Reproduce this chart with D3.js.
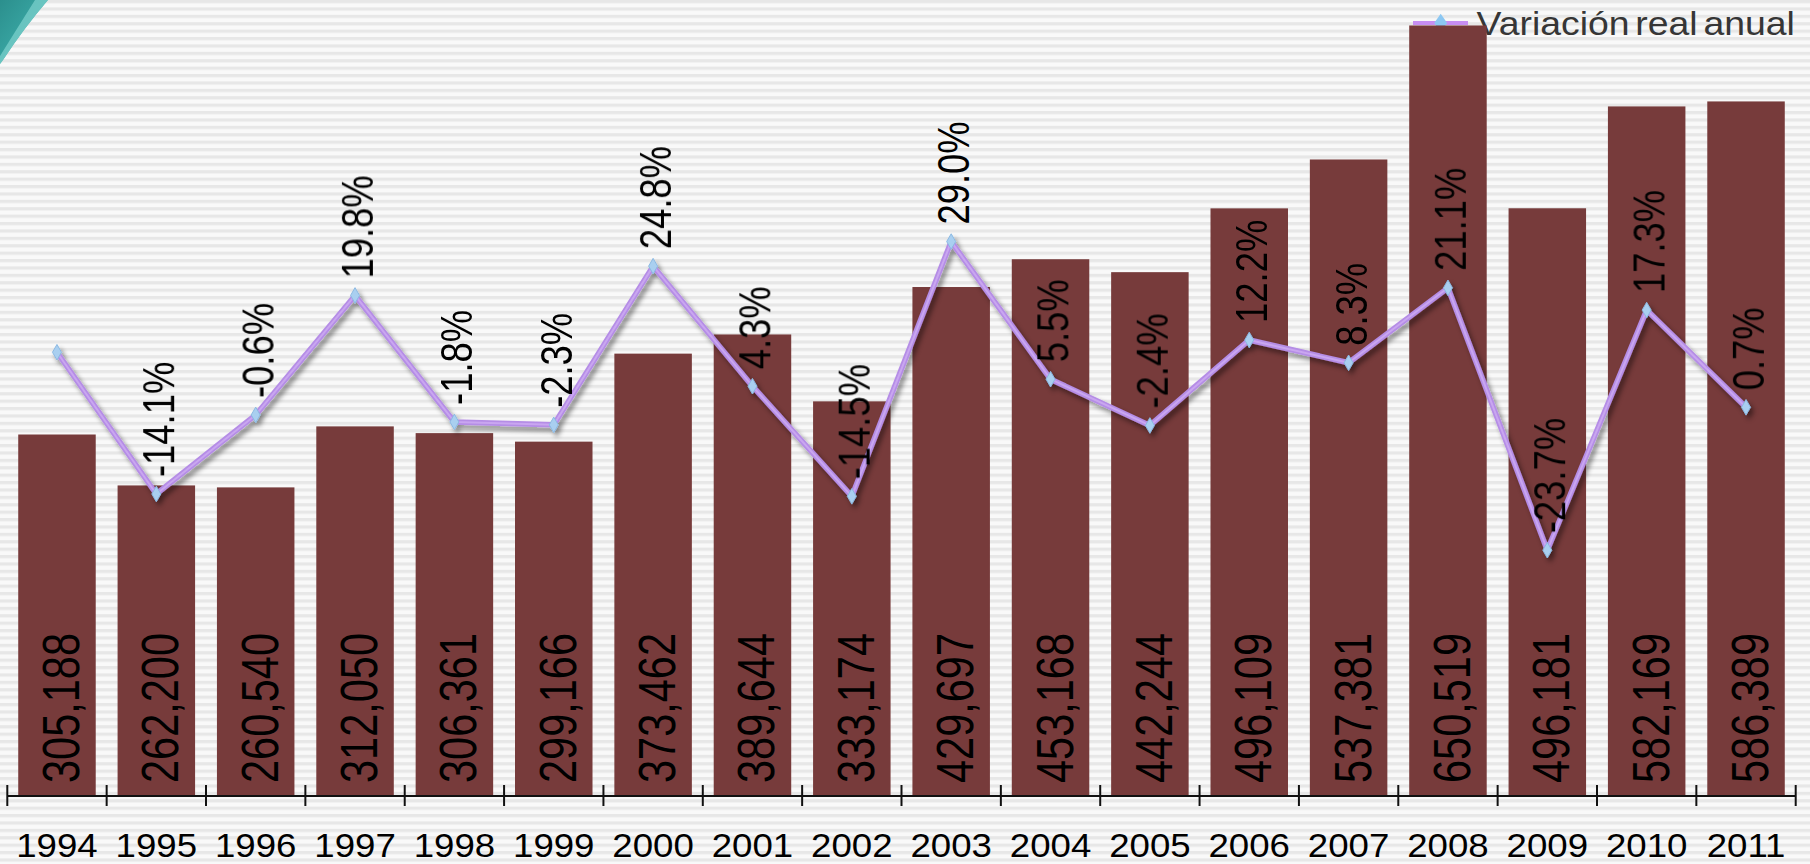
<!DOCTYPE html>
<html>
<head>
<meta charset="utf-8">
<script src="https://cdn.jsdelivr.net/npm/d3@7"></script>
<style>
  html, body { margin: 0; padding: 0; background: #f4f4f4; overflow: hidden; }
  svg { display: block; }
  text { font-family: "Liberation Sans", Arial, sans-serif; }
</style>
</head>
<body>
<svg id="chart" width="1810" height="864"></svg>
<script>
// ---- Data ----
const years = ["1994","1995","1996","1997","1998","1999","2000","2001","2002","2003","2004","2005","2006","2007","2008","2009","2010","2011"];
const amounts = [305188, 262200, 260540, 312050, 306361, 299166, 373462, 389644, 333174, 429697, 453168, 442244, 496109, 537381, 650519, 496181, 582169, 586389];
const variation = [10.1, -14.1, -0.6, 19.8, -1.8, -2.3, 24.8, 4.3, -14.5, 29.0, 5.5, -2.4, 12.2, 8.3, 21.1, -23.7, 17.3, 0.7];
const variationLabels = [null, "-14.1%", "-0.6%", "19.8%", "-1.8%", "-2.3%", "24.8%", "4.3%", "-14.5%", "29.0%", "5.5%", "-2.4%", "12.2%", "8.3%", "21.1%", "-23.7%", "17.3%", "0.7%"];
const legendLabel = "Variación real anual";

// ---- Layout ----
const W = 1810, H = 864;
const axisLeft = 7.3, axisRight = 1795.7, baseY = 796;
const svg = d3.select("#chart");
const defs = svg.append("defs");

// striped background
const pat = defs.append("pattern").attr("id", "stripes")
  .attr("patternUnits", "userSpaceOnUse").attr("width", 8).attr("height", 7.4);
pat.append("rect").attr("width", 8).attr("height", 7.4).attr("fill", "#f9f9f9");
pat.append("rect").attr("y", 0).attr("width", 8).attr("height", 3.2).attr("fill", "#e7e7e7");
svg.append("rect").attr("width", W).attr("height", H).attr("fill", "url(#stripes)");

// teal corner decoration
const tg = defs.append("linearGradient").attr("id", "teal")
  .attr("x1", "0").attr("y1", "0").attr("x2", "1").attr("y2", "1");
tg.append("stop").attr("offset", "0").attr("stop-color", "#2b8f8d");
tg.append("stop").attr("offset", "0.6").attr("stop-color", "#3aa8a5");
tg.append("stop").attr("offset", "1").attr("stop-color", "#8fe0dc");
svg.append("path").attr("d", "M0,0 L48,0 Q24,28 3,60 L0,64 Z").attr("fill", "url(#teal)");
svg.append("path").attr("d", "M35,0 L48,0 Q24,28 3,60 L0,64 L0,56 Q18,27 35,0 Z")
  .attr("fill", "#7fd3cf").attr("opacity", 0.7);

// drop shadow filter for line
const f = defs.append("filter").attr("id", "shadow")
  .attr("x", "-5%").attr("y", "-5%").attr("width", "110%").attr("height", "120%");
f.append("feDropShadow").attr("dx", 3).attr("dy", 4).attr("stdDeviation", 2.5)
  .attr("flood-color", "#000").attr("flood-opacity", 0.45);

// ---- Scales ----
const x = d3.scaleBand().domain(years).range([axisLeft, axisRight])
  .paddingInner(0.22).paddingOuter(0.11);
const xc = d => x(d) + x.bandwidth() / 2;
const yBar = d3.scaleLinear().domain([0, 700000]).range([baseY, baseY - 700000 * 0.0011845]);
const yPct = d3.scaleLinear().domain([-30, 30]).range([587.1, 235.7]);
const edges = d3.scaleLinear().domain([0, years.length]).range([axisLeft, axisRight]);

// ---- Legend ----
const lg = svg.append("g");
lg.append("line").attr("x1", 1413).attr("x2", 1468).attr("y1", 23).attr("y2", 23)
  .attr("stroke", "#c78ef2").attr("stroke-width", 4);
lg.append("path").attr("d", d3.symbol(d3.symbolDiamond, 110)())
  .attr("transform", "translate(1440.7,23) scale(1.15,0.95)").attr("fill", "#8cc7f2");
lg.append("text").attr("x", 0).attr("y", 0)
  .attr("transform", "translate(1476.5,35) scale(1.15,1)")
  .attr("font-size", 32.5).attr("fill", "#363636").attr("word-spacing", -4)
  .text(legendLabel);

// ---- Bars ----
svg.append("g").selectAll("rect").data(years).join("rect")
  .attr("x", d => x(d)).attr("width", x.bandwidth())
  .attr("y", (d, i) => yBar(amounts[i]))
  .attr("height", (d, i) => baseY - yBar(amounts[i]))
  .attr("fill", "#773b3b");

// bar value labels
svg.append("g").selectAll("text").data(years).join("text")
  .attr("transform", d => `translate(${xc(d) + 22},783) scale(1.23,1) rotate(-90)`)
  .attr("font-size", 41.5).attr("fill", "#000")
  .text((d, i) => d3.format(",")(amounts[i]));

// ---- Axis ----
const ax = svg.append("g").attr("stroke", "#111").attr("stroke-width", 2);
ax.append("line").attr("x1", axisLeft).attr("x2", axisRight).attr("y1", baseY).attr("y2", baseY);
ax.selectAll("line.tick").data(d3.range(years.length + 1)).join("line").attr("class", "tick")
  .attr("x1", d => edges(d)).attr("x2", d => edges(d)).attr("y1", 785).attr("y2", 806);
svg.append("g").selectAll("text").data(years).join("text")
  .attr("transform", d => `translate(${xc(d)},857) scale(1.11,1)`)
  .attr("text-anchor", "middle").attr("font-size", 33).attr("fill", "#000")
  .text(d => d);

// ---- Line ----
const line = d3.line().x((d, i) => xc(years[i])).y(d => yPct(d));
const lgrp = svg.append("g").attr("filter", "url(#shadow)");
lgrp.append("path").datum(variation).attr("d", line)
  .attr("fill", "none").attr("stroke", "#b58de6").attr("stroke-width", 5.5)
  .attr("stroke-linejoin", "round");
lgrp.append("path").datum(variation).attr("d", line)
  .attr("fill", "none").attr("stroke", "#c9a6f0").attr("stroke-width", 2)
  .attr("stroke-linejoin", "round");
lgrp.selectAll("path.mk").data(variation).join("path").attr("class", "mk")
  .attr("d", d3.symbol(d3.symbolDiamond, 70)())
  .attr("transform", (d, i) => `translate(${xc(years[i])},${yPct(d)})`)
  .attr("fill", "#a9cff0").attr("stroke", "#8bb9e2").attr("stroke-width", 1);

// percent labels
svg.append("g").selectAll("text").data(years).join("text")
  .attr("transform", (d, i) => `translate(${xc(d) + 18},${yPct(variation[i]) - 17}) scale(1.22,1) rotate(-90)`)
  .attr("font-size", 36.4).attr("fill", "#000")
  .text((d, i) => variationLabels[i] || "");
</script>
</body>
</html>
